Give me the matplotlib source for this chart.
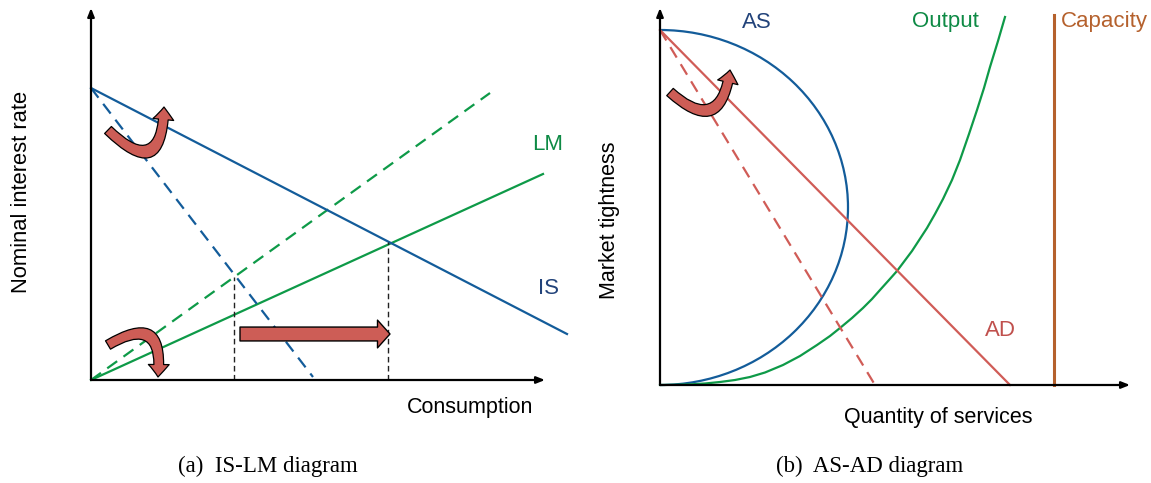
import matplotlib
matplotlib.use("Agg")
import matplotlib.pyplot as plt
from matplotlib.patches import FancyArrowPatch, Arc

plt.rcParams['font.family'] = ['Liberation Sans', 'DejaVu Sans']

# ---------------- data (diagram units) ----------------
# Panel (a) IS-LM
is_solid_x = [0.0, 47.6]
is_solid_y = [29.2, 4.6]
is_dash_x = [0.0, 22.2]
is_dash_y = [29.2, 0.3]
lm_solid_x = [0.0, 45.2]
lm_solid_y = [0.0, 20.6]
lm_dash_x = [0.0, 39.9]
lm_dash_y = [0.0, 28.7]
vline_x = [14.3, 29.7]
vline_top = [10.3, 13.8]
shift_arrow_x = [14.9, 29.9]
shift_arrow_y = 4.6
left_axis_len = (45.4, 37.2)

# Panel (b) AS-AD
as_center = (0.0, 17.75)     # AS: right half of an ellipse
as_width = 37.6
as_height = 35.5
out_x = [0.0, 1.5, 3.0, 4.5, 6.0, 7.5, 9.0, 10.5, 12.3, 14.0, 15.7, 17.0,
         18.0, 19.2, 20.3, 21.2, 22.0, 22.9, 23.7, 25.2, 26.7, 27.5, 28.3,
         29.2, 30.0, 30.9, 31.7, 32.4, 33.0, 33.8, 34.5]
out_y = [0.0, 0.02, 0.06, 0.15, 0.3, 0.5, 0.8, 1.25, 2.0, 2.9, 4.0, 4.9,
         5.7, 6.7, 7.7, 8.6, 9.5, 10.5, 11.4, 13.4, 15.7, 17.1, 18.6,
         20.5, 22.5, 25.1, 27.5, 29.7, 31.8, 34.4, 36.8]
ad_solid_x = [0.0, 35.0]
ad_solid_y = [35.5, 0.0]
ad_dash_x = [0.0, 21.5]
ad_dash_y = [35.5, 0.0]
capacity_x = 39.4
capacity_y = [0.0, 37.0]
right_axis_len = (47.0, 37.7)

# colours
BLUE = '#135C9A'
BLUE_TXT = '#22437A'
GREEN = '#0E9A48'
GREEN_TXT = '#0E8A45'
RED = '#D05C57'
RED_TXT = '#C0504D'
BROWN = '#B5612D'
ARROW_FILL = '#CD5D56'
LW = 1.6

fig = plt.figure(figsize=(11.51, 4.83), dpi=100)
axL = fig.add_axes([0, 0, 0.5, 1])
axR = fig.add_axes([0.5, 0, 0.5, 1])
axL.set_xlim(-9.1, 48.45)
axL.set_ylim(-10.3, 38.0)
axR.set_xlim(-8.45, 49.1)
axR.set_ylim(-9.8, 38.5)
for ax in (axL, axR):
    ax.set_axis_off()


def axes_arrows(ax, L):
    for end in [(L[0], 0), (0, L[1])]:
        ax.annotate('', xy=end, xytext=(0, 0),
                    arrowprops=dict(arrowstyle='-|>,head_length=0.5,head_width=0.2',
                                    color='black', lw=1.6, shrinkA=0, shrinkB=0))


def curved_arrow(ax, p0, p1, rad):
    arr = FancyArrowPatch(p0, p1, connectionstyle=f"arc3,rad={rad}",
                          arrowstyle="simple,tail_width=7,head_width=15,head_length=9",
                          mutation_scale=1, facecolor=ARROW_FILL, edgecolor='black',
                          lw=0.9, shrinkA=0, shrinkB=0, zorder=5)
    ax.add_patch(arr)


# ---------------- panel (a) ----------------
axes_arrows(axL, left_axis_len)
axL.plot(lm_dash_x, lm_dash_y, color=GREEN, lw=LW, dashes=(5.5, 3.5))
axL.plot(lm_solid_x, lm_solid_y, color=GREEN, lw=LW)
axL.plot(is_dash_x, is_dash_y, color=BLUE, lw=LW, dashes=(5.5, 3.5))
axL.plot(is_solid_x, is_solid_y, color=BLUE, lw=LW)
for vx, vt in zip(vline_x, vline_top):
    axL.plot([vx, vx], [0, vt], color='#222222', lw=1.0, dashes=(4, 2.5))

sa = FancyArrowPatch((shift_arrow_x[0], shift_arrow_y), (shift_arrow_x[1], shift_arrow_y),
                     arrowstyle="simple,tail_width=10,head_width=20,head_length=9",
                     mutation_scale=1, facecolor=ARROW_FILL, edgecolor='black', lw=1.0,
                     shrinkA=0, shrinkB=0, zorder=5)
axL.add_patch(sa)

curved_arrow(axL, (1.7, 25.0), (7.3, 27.3), 1.15)
curved_arrow(axL, (1.7, 3.5), (6.7, 0.3), -1.0)

axL.text(45.7, 23.5, 'LM', color=GREEN_TXT, fontsize=16, ha='center', va='center')
axL.text(45.8, 9.2, 'IS', color=BLUE_TXT, fontsize=16, ha='center', va='center')
axL.text(37.9, -2.8, 'Consumption', color='black', fontsize=15.5, ha='center', va='center')
axL.text(-6.9, 18.8, 'Nominal interest rate', color='black', fontsize=15.8,
         ha='center', va='center', rotation=90)
axL.text(26.8 - 9.1, -8.6, '(a)  IS-LM diagram', color='black', fontsize=16.5,
         ha='center', va='center', family='Liberation Serif')

# ---------------- panel (b) ----------------
axes_arrows(axR, right_axis_len)
axR.add_patch(Arc(as_center, as_width, as_height, theta1=-90, theta2=90,
                  color=BLUE, lw=LW))
axR.plot(out_x, out_y, color=GREEN, lw=LW)
axR.plot(ad_dash_x, ad_dash_y, color=RED, lw=LW, dashes=(5.5, 3.5))
axR.plot(ad_solid_x, ad_solid_y, color=RED, lw=LW)
axR.plot([capacity_x, capacity_x], capacity_y, color=BROWN, lw=2.2)

curved_arrow(axR, (1.0, 29.3), (7.0, 31.5), 0.95)

axR.text(9.7, 36.3, 'AS', color=BLUE_TXT, fontsize=16, ha='center', va='center')
axR.text(28.5, 36.3, 'Output', color=GREEN_TXT, fontsize=16, ha='center', va='center')
axR.text(44.4, 36.3, 'Capacity', color=BROWN, fontsize=16, ha='center', va='center')
axR.text(34.0, 5.5, 'AD', color=RED_TXT, fontsize=16, ha='center', va='center')
axR.text(27.8, -3.3, 'Quantity of services', color='black', fontsize=15.5,
         ha='center', va='center')
axR.text(-5.0, 16.5, 'Market tightness', color='black', fontsize=15.5,
         ha='center', va='center', rotation=90)
axR.text(21.0, -8.1, '(b)  AS-AD diagram', color='black', fontsize=16.5,
         ha='center', va='center', family='Liberation Serif')

fig.savefig('out.png', dpi=100)
